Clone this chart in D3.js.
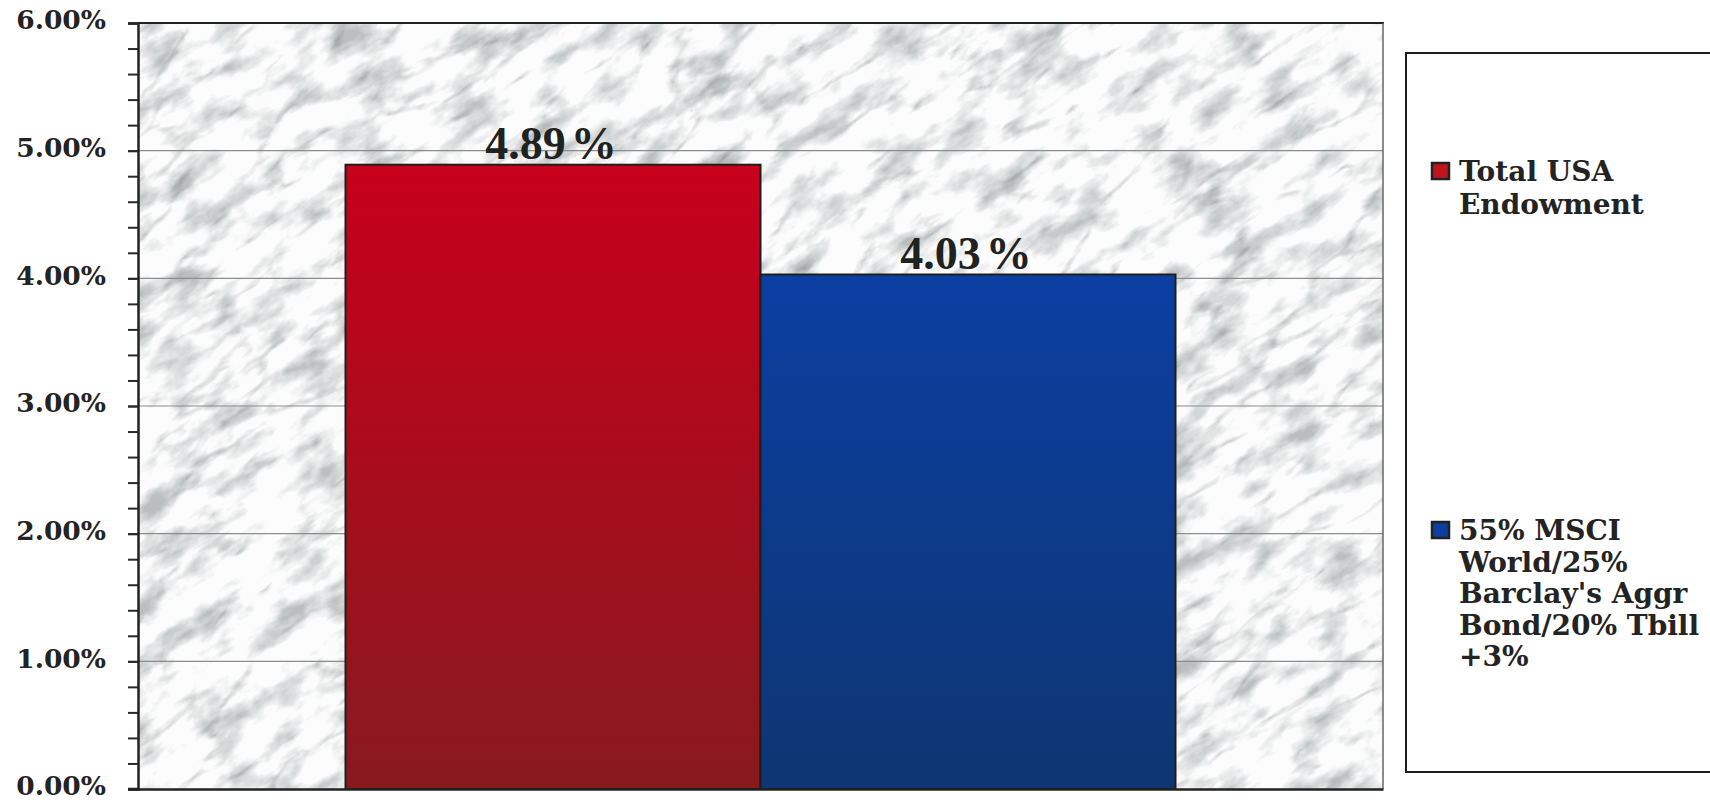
<!DOCTYPE html>
<html>
<head>
<meta charset="utf-8">
<script src="https://cdn.jsdelivr.net/npm/d3@7"></script>
<style>
  html, body { margin: 0; padding: 0; background: #ffffff; }
  svg { display: block; }
</style>
</head>
<body>
<svg id="chart" width="1710" height="802"></svg>
<script>
// ---- data ----
const categories = ["Total USA Endowment", "55% MSCI World/25% Barclay's Aggr Bond/20% Tbill +3%"];
const values = [4.89, 4.03];
const legendLines = [
  ["Total USA", "Endowment"],
  ["55% MSCI", "World/25%", "Barclay's Aggr", "Bond/20% Tbill", "+3%"]
];
const yTickValues = [0, 1, 2, 3, 4, 5, 6];
const yDomain = [0, 6];

// ---- styles ----
const colorTop = ["#c8001c", "#0b3fa2"];
const colorBottom = ["#871a1d", "#0e3672"];
const swatchColor = ["#c0141c", "#0c3fa0"];

const svg = d3.select("#chart");
const plot = { left: 138, top: 23, right: 1383, bottom: 789 };
const W = plot.right - plot.left, H = plot.bottom - plot.top;

const y = d3.scaleLinear().domain(yDomain).range([plot.bottom, plot.top]);
const x = d3.scaleBand().domain(categories).range([plot.left, plot.right])
  .paddingInner(0).paddingOuter(0.5);

const defs = svg.append("defs");
defs.append("clipPath").attr("id", "plotClip")
  .append("rect").attr("x", plot.left).attr("y", plot.top).attr("width", W).attr("height", H);

// marble texture
const f1 = defs.append("filter").attr("id", "veins")
  .attr("x", 0).attr("y", 0).attr("width", "100%").attr("height", "100%")
  .attr("color-interpolation-filters", "sRGB");
f1.append("feTurbulence").attr("type", "turbulence")
  .attr("baseFrequency", "0.008 0.022").attr("numOctaves", 4).attr("seed", 11);
f1.append("feColorMatrix").attr("type", "matrix")
  .attr("values", "0 0 0 0 0.42  0 0 0 0 0.44  0 0 0 0 0.45  -3.2 0 0 0 0.6");

const f2 = defs.append("filter").attr("id", "mottle")
  .attr("x", 0).attr("y", 0).attr("width", "100%").attr("height", "100%")
  .attr("color-interpolation-filters", "sRGB");
f2.append("feTurbulence").attr("type", "fractalNoise")
  .attr("baseFrequency", "0.018 0.04").attr("numOctaves", 5).attr("seed", 3);
f2.append("feColorMatrix").attr("type", "matrix")
  .attr("values", "0 0 0 0 0.52  0 0 0 0 0.55  0 0 0 0 0.56  -3.0 0 0 0 1.58");

values.forEach((v, i) => {
  const g = defs.append("linearGradient").attr("id", "grad" + i)
    .attr("x1", 0).attr("y1", 0).attr("x2", 0).attr("y2", 1);
  g.append("stop").attr("offset", "0%").attr("stop-color", colorTop[i]);
  g.append("stop").attr("offset", "100%").attr("stop-color", colorBottom[i]);
});

// plot background
const bg = svg.append("g").attr("clip-path", "url(#plotClip)");
bg.append("rect").attr("x", plot.left).attr("y", plot.top).attr("width", W).attr("height", H).attr("fill", "#fcfcfc");
const cx = (plot.left + plot.right) / 2, cy = (plot.top + plot.bottom) / 2;
const rot = bg.append("g").attr("transform", `rotate(-35 ${cx} ${cy})`);
rot.append("rect").attr("x", cx - 900).attr("y", cy - 900).attr("width", 1800).attr("height", 1800)
  .attr("filter", "url(#mottle)").attr("opacity", 0.55);
rot.append("rect").attr("x", cx - 900).attr("y", cy - 900).attr("width", 1800).attr("height", 1800)
  .attr("filter", "url(#veins)").attr("opacity", 0.55);

// gridlines
svg.append("g").selectAll("line")
  .data(yTickValues.filter(d => d > yDomain[0] && d < yDomain[1]))
  .join("line")
  .attr("x1", plot.left).attr("x2", plot.right)
  .attr("y1", d => y(d)).attr("y2", d => y(d))
  .attr("stroke", "#8c8c8c").attr("stroke-width", 1.2);

// plot borders (top, right)
svg.append("line").attr("x1", plot.left).attr("x2", plot.right + 1).attr("y1", plot.top).attr("y2", plot.top)
  .attr("stroke", "#222").attr("stroke-width", 2);
svg.append("line").attr("x1", plot.right).attr("x2", plot.right).attr("y1", plot.top).attr("y2", plot.bottom)
  .attr("stroke", "#666").attr("stroke-width", 1.5);

// bars
svg.append("g").selectAll("rect")
  .data(values)
  .join("rect")
  .attr("x", (d, i) => x(categories[i]))
  .attr("width", x.bandwidth())
  .attr("y", d => y(d))
  .attr("height", d => y(0) - y(d))
  .attr("fill", (d, i) => `url(#grad${i})`)
  .attr("stroke", "#1e1e1e").attr("stroke-width", 2);

// value labels
const fmt = d3.format(".2f");
const lbl = svg.append("g").selectAll("text")
  .data(values)
  .join("text")
  .attr("x", (d, i) => x(categories[i]) + x.bandwidth() / 2 - 2)
  .attr("y", d => y(d) - 6)
  .attr("text-anchor", "middle")
  .attr("font-family", "'Liberation Serif', 'Times New Roman', serif")
  .attr("font-weight", "bold")
  .attr("font-size", 46)
  .attr("fill", "#1e2322");
lbl.append("tspan").text(d => fmt(d));
lbl.append("tspan").attr("dx", 5).text("%");

// y axis (minor ticks)
svg.append("g").attr("transform", `translate(${plot.left},0)`)
  .call(d3.axisLeft(y).ticks(30).tickSize(10).tickFormat(""))
  .call(g => g.select(".domain").remove())
  .call(g => g.selectAll("line").attr("stroke", "#2a2a2a").attr("stroke-width", 2));

// y axis (major)
svg.append("g").attr("transform", `translate(${plot.left},0)`)
  .call(d3.axisLeft(y).tickValues(yTickValues).tickSize(10).tickPadding(22)
    .tickFormat(d => fmt(d) + "%"))
  .call(g => g.select(".domain").attr("stroke", "#222").attr("stroke-width", 2.5))
  .call(g => g.selectAll("line").attr("stroke", "#2a2a2a").attr("stroke-width", 2))
  .call(g => g.selectAll("text")
    .attr("dy", "0.22em")
    .attr("font-family", "'DejaVu Serif', serif")
    .attr("font-weight", "bold")
    .attr("font-size", 26.5)
    .attr("fill", "#232323"));

// x axis line
svg.append("g").attr("transform", `translate(0,${plot.bottom})`)
  .call(d3.axisBottom(x).tickValues([]).tickSizeOuter(0))
  .call(g => g.select(".domain").attr("stroke", "#222").attr("stroke-width", 2.5));
svg.append("line").attr("x1", plot.left - 10).attr("x2", plot.left).attr("y1", plot.bottom).attr("y2", plot.bottom)
  .attr("stroke", "#222").attr("stroke-width", 2.5);

// legend
const legend = { x: 1406, y: 53, w: 420, h: 719 };
svg.append("rect").attr("x", legend.x).attr("y", legend.y).attr("width", legend.w).attr("height", legend.h)
  .attr("fill", "#ffffff").attr("stroke", "#1e1e1e").attr("stroke-width", 2);
const itemTop = [163, 522];
const lineH = [33, 31.5];
const items = svg.append("g").selectAll("g")
  .data(categories)
  .join("g")
  .attr("transform", (d, i) => `translate(${legend.x + 26},${itemTop[i]})`);
items.append("rect").attr("x", 0).attr("y", 0).attr("width", 17).attr("height", 16)
  .attr("fill", (d, i) => swatchColor[i]).attr("stroke", "#222").attr("stroke-width", 2.5);
items.each(function (d, i) {
  const t = d3.select(this).append("text")
    .attr("font-family", "'DejaVu Serif', serif")
    .attr("font-weight", "bold")
    .attr("font-size", 28)
    .attr("fill", "#232323");
  t.selectAll("tspan").data(legendLines[i]).join("tspan")
    .attr("x", 27).attr("y", (s, k) => 18 + k * lineH[i]).text(s => s);
});
</script>
</body>
</html>
